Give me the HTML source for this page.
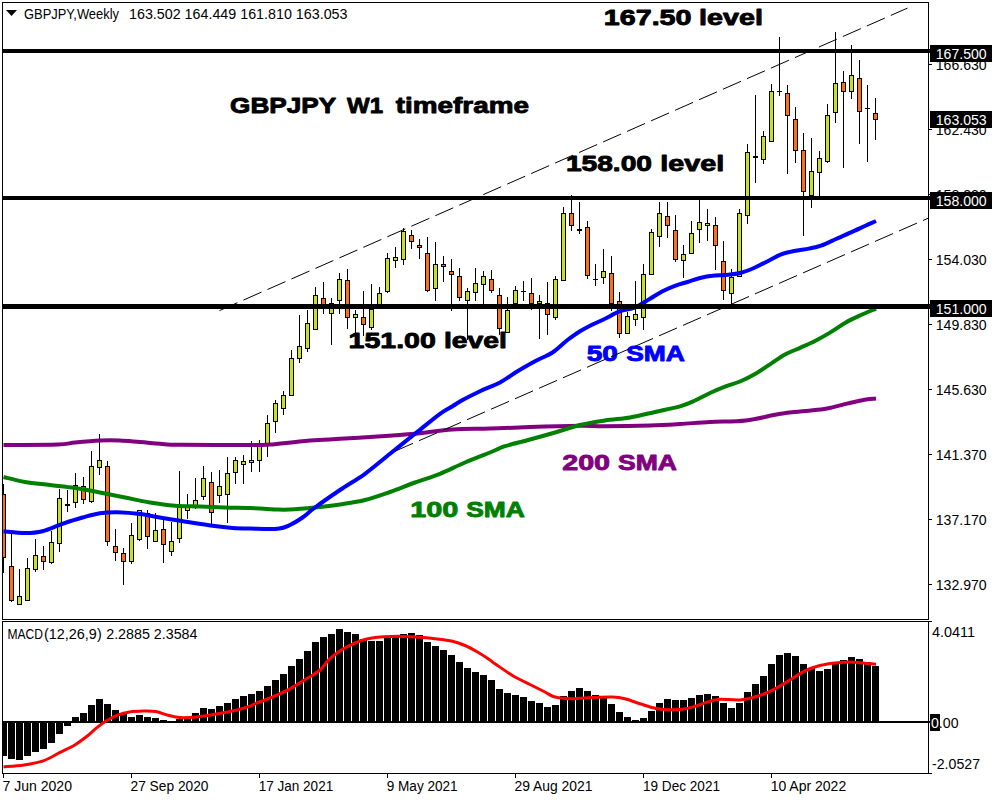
<!DOCTYPE html>
<html lang="en"><head><meta charset="utf-8"><title>GBPJPY Weekly chart</title>
<style>
html,body{margin:0;padding:0;background:#fff;}
body{width:1000px;height:800px;overflow:hidden;}
svg{display:block;}
text{font-family:"Liberation Sans", sans-serif;}
.ax{font-size:14px;fill:#000;}
.axw{font-size:14px;fill:#fff;}
.big{font-weight:bold;font-size:22.8px;stroke-width:0.9px;stroke-linejoin:round;paint-order:stroke;}
</style></head><body>
<svg width="1000" height="800" viewBox="0 0 1000 800">
<rect x="0" y="0" width="1000" height="800" fill="#fff"/>
<defs><clipPath id="cm"><rect x="3" y="3" width="925" height="616"/></clipPath><clipPath id="ci"><rect x="3" y="622" width="925" height="151"/></clipPath></defs>
<g shape-rendering="crispEdges" clip-path="url(#cm)">
<rect x="3" y="484" width="1" height="89" fill="#000"/>
<rect x="1" y="494" width="5" height="64" fill="#000"/>
<rect x="2" y="495" width="3" height="62" fill="#ff6c20"/>
<rect x="11" y="534" width="1" height="68" fill="#000"/>
<rect x="9" y="566" width="5" height="35" fill="#000"/>
<rect x="10" y="567" width="3" height="33" fill="#ff6c20"/>
<rect x="19" y="569" width="1" height="36" fill="#000"/>
<rect x="17" y="596" width="5" height="9" fill="#000"/>
<rect x="18" y="597" width="3" height="7" fill="#c4de32"/>
<rect x="27" y="558" width="1" height="43" fill="#000"/>
<rect x="25" y="568" width="5" height="33" fill="#000"/>
<rect x="26" y="569" width="3" height="31" fill="#c4de32"/>
<rect x="35" y="539" width="1" height="33" fill="#000"/>
<rect x="33" y="555" width="5" height="15" fill="#000"/>
<rect x="34" y="556" width="3" height="13" fill="#c4de32"/>
<rect x="43" y="546" width="1" height="24" fill="#000"/>
<rect x="41" y="556" width="5" height="6" fill="#000"/>
<rect x="42" y="557" width="3" height="4" fill="#ff6c20"/>
<rect x="51" y="531" width="1" height="33" fill="#000"/>
<rect x="49" y="542" width="5" height="21" fill="#000"/>
<rect x="50" y="543" width="3" height="19" fill="#c4de32"/>
<rect x="59" y="489" width="1" height="63" fill="#000"/>
<rect x="57" y="498" width="5" height="46" fill="#000"/>
<rect x="58" y="499" width="3" height="44" fill="#c4de32"/>
<rect x="67" y="490" width="1" height="22" fill="#000"/>
<rect x="65" y="504" width="5" height="2" fill="#000"/>
<rect x="75" y="473" width="1" height="35" fill="#000"/>
<rect x="73" y="485" width="5" height="18" fill="#000"/>
<rect x="74" y="486" width="3" height="16" fill="#c4de32"/>
<rect x="83" y="477" width="1" height="27" fill="#000"/>
<rect x="81" y="486" width="5" height="14" fill="#000"/>
<rect x="82" y="487" width="3" height="12" fill="#ff6c20"/>
<rect x="91" y="451" width="1" height="52" fill="#000"/>
<rect x="89" y="466" width="5" height="36" fill="#000"/>
<rect x="90" y="467" width="3" height="34" fill="#c4de32"/>
<rect x="99" y="434" width="1" height="41" fill="#000"/>
<rect x="97" y="460" width="5" height="8" fill="#000"/>
<rect x="98" y="461" width="3" height="6" fill="#c4de32"/>
<rect x="107" y="461" width="1" height="85" fill="#000"/>
<rect x="105" y="466" width="5" height="76" fill="#000"/>
<rect x="106" y="467" width="3" height="74" fill="#ff6c20"/>
<rect x="115" y="529" width="1" height="32" fill="#000"/>
<rect x="113" y="546" width="5" height="7" fill="#000"/>
<rect x="114" y="547" width="3" height="5" fill="#ff6c20"/>
<rect x="123" y="548" width="1" height="37" fill="#000"/>
<rect x="121" y="553" width="5" height="9" fill="#000"/>
<rect x="122" y="554" width="3" height="7" fill="#ff6c20"/>
<rect x="131" y="523" width="1" height="41" fill="#000"/>
<rect x="129" y="535" width="5" height="27" fill="#000"/>
<rect x="130" y="536" width="3" height="25" fill="#c4de32"/>
<rect x="139" y="510" width="1" height="31" fill="#000"/>
<rect x="137" y="510" width="5" height="30" fill="#000"/>
<rect x="138" y="511" width="3" height="28" fill="#c4de32"/>
<rect x="147" y="510" width="1" height="39" fill="#000"/>
<rect x="145" y="513" width="5" height="24" fill="#000"/>
<rect x="146" y="514" width="3" height="22" fill="#ff6c20"/>
<rect x="155" y="513" width="1" height="29" fill="#000"/>
<rect x="153" y="530" width="5" height="12" fill="#000"/>
<rect x="154" y="531" width="3" height="10" fill="#c4de32"/>
<rect x="163" y="520" width="1" height="43" fill="#000"/>
<rect x="161" y="529" width="5" height="16" fill="#000"/>
<rect x="162" y="530" width="3" height="14" fill="#ff6c20"/>
<rect x="171" y="522" width="1" height="34" fill="#000"/>
<rect x="169" y="541" width="5" height="11" fill="#000"/>
<rect x="170" y="542" width="3" height="9" fill="#c4de32"/>
<rect x="179" y="471" width="1" height="72" fill="#000"/>
<rect x="177" y="505" width="5" height="34" fill="#000"/>
<rect x="178" y="506" width="3" height="32" fill="#c4de32"/>
<rect x="187" y="494" width="1" height="25" fill="#000"/>
<rect x="185" y="507" width="5" height="4" fill="#000"/>
<rect x="186" y="508" width="3" height="2" fill="#c4de32"/>
<rect x="195" y="478" width="1" height="31" fill="#000"/>
<rect x="193" y="500" width="5" height="8" fill="#000"/>
<rect x="194" y="501" width="3" height="6" fill="#c4de32"/>
<rect x="203" y="466" width="1" height="34" fill="#000"/>
<rect x="201" y="478" width="5" height="19" fill="#000"/>
<rect x="202" y="479" width="3" height="17" fill="#c4de32"/>
<rect x="211" y="472" width="1" height="52" fill="#000"/>
<rect x="209" y="482" width="5" height="31" fill="#000"/>
<rect x="210" y="483" width="3" height="29" fill="#ff6c20"/>
<rect x="219" y="470" width="1" height="33" fill="#000"/>
<rect x="217" y="486" width="5" height="10" fill="#000"/>
<rect x="218" y="487" width="3" height="8" fill="#c4de32"/>
<rect x="227" y="457" width="1" height="66" fill="#000"/>
<rect x="225" y="473" width="5" height="22" fill="#000"/>
<rect x="226" y="474" width="3" height="20" fill="#c4de32"/>
<rect x="235" y="457" width="1" height="27" fill="#000"/>
<rect x="233" y="460" width="5" height="13" fill="#000"/>
<rect x="234" y="461" width="3" height="11" fill="#c4de32"/>
<rect x="243" y="455" width="1" height="29" fill="#000"/>
<rect x="241" y="461" width="5" height="4" fill="#000"/>
<rect x="242" y="462" width="3" height="2" fill="#c4de32"/>
<rect x="251" y="441" width="1" height="31" fill="#000"/>
<rect x="249" y="460" width="5" height="3" fill="#000"/>
<rect x="250" y="461" width="3" height="1" fill="#c4de32"/>
<rect x="259" y="440" width="1" height="32" fill="#000"/>
<rect x="257" y="446" width="5" height="15" fill="#000"/>
<rect x="258" y="447" width="3" height="13" fill="#c4de32"/>
<rect x="267" y="415" width="1" height="42" fill="#000"/>
<rect x="265" y="423" width="5" height="21" fill="#000"/>
<rect x="266" y="424" width="3" height="19" fill="#c4de32"/>
<rect x="275" y="400" width="1" height="33" fill="#000"/>
<rect x="273" y="403" width="5" height="19" fill="#000"/>
<rect x="274" y="404" width="3" height="17" fill="#c4de32"/>
<rect x="283" y="391" width="1" height="24" fill="#000"/>
<rect x="281" y="395" width="5" height="14" fill="#000"/>
<rect x="282" y="396" width="3" height="12" fill="#c4de32"/>
<rect x="291" y="350" width="1" height="46" fill="#000"/>
<rect x="289" y="358" width="5" height="38" fill="#000"/>
<rect x="290" y="359" width="3" height="36" fill="#c4de32"/>
<rect x="299" y="315" width="1" height="48" fill="#000"/>
<rect x="297" y="346" width="5" height="13" fill="#000"/>
<rect x="298" y="347" width="3" height="11" fill="#c4de32"/>
<rect x="307" y="310" width="1" height="42" fill="#000"/>
<rect x="305" y="323" width="5" height="26" fill="#000"/>
<rect x="306" y="324" width="3" height="24" fill="#c4de32"/>
<rect x="315" y="287" width="1" height="43" fill="#000"/>
<rect x="313" y="295" width="5" height="35" fill="#000"/>
<rect x="314" y="296" width="3" height="33" fill="#c4de32"/>
<rect x="323" y="282" width="1" height="32" fill="#000"/>
<rect x="321" y="298" width="5" height="7" fill="#000"/>
<rect x="322" y="299" width="3" height="5" fill="#ff6c20"/>
<rect x="331" y="298" width="1" height="47" fill="#000"/>
<rect x="329" y="303" width="5" height="11" fill="#000"/>
<rect x="330" y="304" width="3" height="9" fill="#c4de32"/>
<rect x="339" y="273" width="1" height="41" fill="#000"/>
<rect x="337" y="279" width="5" height="22" fill="#000"/>
<rect x="338" y="280" width="3" height="20" fill="#c4de32"/>
<rect x="347" y="269" width="1" height="60" fill="#000"/>
<rect x="345" y="280" width="5" height="38" fill="#000"/>
<rect x="346" y="281" width="3" height="36" fill="#ff6c20"/>
<rect x="355" y="310" width="1" height="23" fill="#000"/>
<rect x="353" y="314" width="5" height="4" fill="#000"/>
<rect x="354" y="315" width="3" height="2" fill="#c4de32"/>
<rect x="363" y="291" width="1" height="45" fill="#000"/>
<rect x="361" y="317" width="5" height="8" fill="#000"/>
<rect x="362" y="318" width="3" height="6" fill="#ff6c20"/>
<rect x="371" y="284" width="1" height="46" fill="#000"/>
<rect x="369" y="309" width="5" height="19" fill="#000"/>
<rect x="370" y="310" width="3" height="17" fill="#c4de32"/>
<rect x="379" y="287" width="1" height="22" fill="#000"/>
<rect x="377" y="293" width="5" height="16" fill="#000"/>
<rect x="378" y="294" width="3" height="14" fill="#c4de32"/>
<rect x="387" y="253" width="1" height="40" fill="#000"/>
<rect x="385" y="258" width="5" height="34" fill="#000"/>
<rect x="386" y="259" width="3" height="32" fill="#c4de32"/>
<rect x="395" y="247" width="1" height="21" fill="#000"/>
<rect x="393" y="257" width="5" height="4" fill="#000"/>
<rect x="394" y="258" width="3" height="2" fill="#c4de32"/>
<rect x="403" y="228" width="1" height="37" fill="#000"/>
<rect x="401" y="231" width="5" height="29" fill="#000"/>
<rect x="402" y="232" width="3" height="27" fill="#c4de32"/>
<rect x="411" y="230" width="1" height="19" fill="#000"/>
<rect x="409" y="235" width="5" height="7" fill="#000"/>
<rect x="410" y="236" width="3" height="5" fill="#ff6c20"/>
<rect x="419" y="239" width="1" height="20" fill="#000"/>
<rect x="417" y="245" width="5" height="3" fill="#000"/>
<rect x="418" y="246" width="3" height="1" fill="#ff6c20"/>
<rect x="427" y="237" width="1" height="55" fill="#000"/>
<rect x="425" y="253" width="5" height="38" fill="#000"/>
<rect x="426" y="254" width="3" height="36" fill="#ff6c20"/>
<rect x="435" y="242" width="1" height="59" fill="#000"/>
<rect x="433" y="264" width="5" height="25" fill="#000"/>
<rect x="434" y="265" width="3" height="23" fill="#c4de32"/>
<rect x="443" y="256" width="1" height="26" fill="#000"/>
<rect x="441" y="264" width="5" height="3" fill="#000"/>
<rect x="442" y="265" width="3" height="1" fill="#ff6c20"/>
<rect x="451" y="259" width="1" height="52" fill="#000"/>
<rect x="449" y="271" width="5" height="4" fill="#000"/>
<rect x="450" y="272" width="3" height="2" fill="#ff6c20"/>
<rect x="459" y="268" width="1" height="33" fill="#000"/>
<rect x="457" y="276" width="5" height="22" fill="#000"/>
<rect x="458" y="277" width="3" height="20" fill="#ff6c20"/>
<rect x="467" y="288" width="1" height="52" fill="#000"/>
<rect x="465" y="291" width="5" height="10" fill="#000"/>
<rect x="466" y="292" width="3" height="8" fill="#c4de32"/>
<rect x="475" y="268" width="1" height="33" fill="#000"/>
<rect x="473" y="283" width="5" height="10" fill="#000"/>
<rect x="474" y="284" width="3" height="8" fill="#c4de32"/>
<rect x="483" y="271" width="1" height="33" fill="#000"/>
<rect x="481" y="276" width="5" height="9" fill="#000"/>
<rect x="482" y="277" width="3" height="7" fill="#c4de32"/>
<rect x="491" y="270" width="1" height="23" fill="#000"/>
<rect x="489" y="279" width="5" height="12" fill="#000"/>
<rect x="490" y="280" width="3" height="10" fill="#ff6c20"/>
<rect x="499" y="288" width="1" height="47" fill="#000"/>
<rect x="497" y="295" width="5" height="34" fill="#000"/>
<rect x="498" y="296" width="3" height="32" fill="#ff6c20"/>
<rect x="507" y="297" width="1" height="36" fill="#000"/>
<rect x="505" y="310" width="5" height="23" fill="#000"/>
<rect x="506" y="311" width="3" height="21" fill="#c4de32"/>
<rect x="515" y="286" width="1" height="18" fill="#000"/>
<rect x="513" y="290" width="5" height="14" fill="#000"/>
<rect x="514" y="291" width="3" height="12" fill="#c4de32"/>
<rect x="523" y="281" width="1" height="20" fill="#000"/>
<rect x="521" y="291" width="5" height="1" fill="#000"/>
<rect x="531" y="278" width="1" height="32" fill="#000"/>
<rect x="529" y="293" width="5" height="11" fill="#000"/>
<rect x="530" y="294" width="3" height="9" fill="#ff6c20"/>
<rect x="539" y="295" width="1" height="44" fill="#000"/>
<rect x="537" y="301" width="5" height="3" fill="#000"/>
<rect x="538" y="302" width="3" height="1" fill="#c4de32"/>
<rect x="547" y="282" width="1" height="53" fill="#000"/>
<rect x="545" y="303" width="5" height="12" fill="#000"/>
<rect x="546" y="304" width="3" height="10" fill="#ff6c20"/>
<rect x="555" y="276" width="1" height="44" fill="#000"/>
<rect x="553" y="279" width="5" height="39" fill="#000"/>
<rect x="554" y="280" width="3" height="37" fill="#c4de32"/>
<rect x="563" y="207" width="1" height="74" fill="#000"/>
<rect x="561" y="213" width="5" height="68" fill="#000"/>
<rect x="562" y="214" width="3" height="66" fill="#c4de32"/>
<rect x="571" y="195" width="1" height="36" fill="#000"/>
<rect x="569" y="213" width="5" height="13" fill="#000"/>
<rect x="570" y="214" width="3" height="11" fill="#ff6c20"/>
<rect x="579" y="202" width="1" height="32" fill="#000"/>
<rect x="577" y="229" width="5" height="2" fill="#000"/>
<rect x="587" y="221" width="1" height="58" fill="#000"/>
<rect x="585" y="227" width="5" height="49" fill="#000"/>
<rect x="586" y="228" width="3" height="47" fill="#ff6c20"/>
<rect x="595" y="264" width="1" height="22" fill="#000"/>
<rect x="593" y="279" width="5" height="1" fill="#000"/>
<rect x="603" y="249" width="1" height="35" fill="#000"/>
<rect x="601" y="271" width="5" height="7" fill="#000"/>
<rect x="602" y="272" width="3" height="5" fill="#c4de32"/>
<rect x="611" y="256" width="1" height="55" fill="#000"/>
<rect x="609" y="273" width="5" height="31" fill="#000"/>
<rect x="610" y="274" width="3" height="29" fill="#ff6c20"/>
<rect x="619" y="292" width="1" height="46" fill="#000"/>
<rect x="617" y="301" width="5" height="33" fill="#000"/>
<rect x="618" y="302" width="3" height="31" fill="#ff6c20"/>
<rect x="627" y="312" width="1" height="22" fill="#000"/>
<rect x="625" y="316" width="5" height="18" fill="#000"/>
<rect x="626" y="317" width="3" height="16" fill="#c4de32"/>
<rect x="635" y="281" width="1" height="45" fill="#000"/>
<rect x="633" y="314" width="5" height="6" fill="#000"/>
<rect x="634" y="315" width="3" height="4" fill="#c4de32"/>
<rect x="643" y="264" width="1" height="66" fill="#000"/>
<rect x="641" y="274" width="5" height="44" fill="#000"/>
<rect x="642" y="275" width="3" height="42" fill="#c4de32"/>
<rect x="651" y="229" width="1" height="46" fill="#000"/>
<rect x="649" y="232" width="5" height="43" fill="#000"/>
<rect x="650" y="233" width="3" height="41" fill="#c4de32"/>
<rect x="659" y="202" width="1" height="45" fill="#000"/>
<rect x="657" y="213" width="5" height="24" fill="#000"/>
<rect x="658" y="214" width="3" height="22" fill="#c4de32"/>
<rect x="667" y="202" width="1" height="36" fill="#000"/>
<rect x="665" y="216" width="5" height="10" fill="#000"/>
<rect x="666" y="217" width="3" height="8" fill="#ff6c20"/>
<rect x="675" y="215" width="1" height="47" fill="#000"/>
<rect x="673" y="230" width="5" height="30" fill="#000"/>
<rect x="674" y="231" width="3" height="28" fill="#ff6c20"/>
<rect x="683" y="245" width="1" height="33" fill="#000"/>
<rect x="681" y="254" width="5" height="7" fill="#000"/>
<rect x="682" y="255" width="3" height="5" fill="#c4de32"/>
<rect x="691" y="221" width="1" height="33" fill="#000"/>
<rect x="689" y="233" width="5" height="21" fill="#000"/>
<rect x="690" y="234" width="3" height="19" fill="#c4de32"/>
<rect x="699" y="200" width="1" height="43" fill="#000"/>
<rect x="697" y="222" width="5" height="8" fill="#000"/>
<rect x="698" y="223" width="3" height="6" fill="#c4de32"/>
<rect x="707" y="209" width="1" height="32" fill="#000"/>
<rect x="705" y="223" width="5" height="3" fill="#000"/>
<rect x="706" y="224" width="3" height="1" fill="#c4de32"/>
<rect x="715" y="217" width="1" height="53" fill="#000"/>
<rect x="713" y="225" width="5" height="21" fill="#000"/>
<rect x="714" y="226" width="3" height="19" fill="#ff6c20"/>
<rect x="723" y="241" width="1" height="59" fill="#000"/>
<rect x="721" y="261" width="5" height="30" fill="#000"/>
<rect x="722" y="262" width="3" height="28" fill="#ff6c20"/>
<rect x="731" y="269" width="1" height="35" fill="#000"/>
<rect x="729" y="277" width="5" height="17" fill="#000"/>
<rect x="730" y="278" width="3" height="15" fill="#c4de32"/>
<rect x="739" y="209" width="1" height="68" fill="#000"/>
<rect x="737" y="213" width="5" height="64" fill="#000"/>
<rect x="738" y="214" width="3" height="62" fill="#c4de32"/>
<rect x="747" y="144" width="1" height="80" fill="#000"/>
<rect x="745" y="152" width="5" height="64" fill="#000"/>
<rect x="746" y="153" width="3" height="62" fill="#c4de32"/>
<rect x="755" y="95" width="1" height="88" fill="#000"/>
<rect x="753" y="156" width="5" height="2" fill="#000"/>
<rect x="763" y="131" width="1" height="33" fill="#000"/>
<rect x="761" y="136" width="5" height="24" fill="#000"/>
<rect x="762" y="137" width="3" height="22" fill="#c4de32"/>
<rect x="771" y="84" width="1" height="58" fill="#000"/>
<rect x="769" y="91" width="5" height="51" fill="#000"/>
<rect x="770" y="92" width="3" height="49" fill="#c4de32"/>
<rect x="779" y="37" width="1" height="59" fill="#000"/>
<rect x="777" y="91" width="5" height="1" fill="#000"/>
<rect x="787" y="85" width="1" height="89" fill="#000"/>
<rect x="785" y="93" width="5" height="23" fill="#000"/>
<rect x="786" y="94" width="3" height="21" fill="#ff6c20"/>
<rect x="795" y="107" width="1" height="56" fill="#000"/>
<rect x="793" y="119" width="5" height="32" fill="#000"/>
<rect x="794" y="120" width="3" height="30" fill="#ff6c20"/>
<rect x="803" y="133" width="1" height="103" fill="#000"/>
<rect x="801" y="150" width="5" height="42" fill="#000"/>
<rect x="802" y="151" width="3" height="40" fill="#ff6c20"/>
<rect x="811" y="138" width="1" height="70" fill="#000"/>
<rect x="809" y="171" width="5" height="25" fill="#000"/>
<rect x="810" y="172" width="3" height="23" fill="#c4de32"/>
<rect x="819" y="151" width="1" height="45" fill="#000"/>
<rect x="817" y="158" width="5" height="15" fill="#000"/>
<rect x="818" y="159" width="3" height="13" fill="#c4de32"/>
<rect x="827" y="104" width="1" height="59" fill="#000"/>
<rect x="825" y="115" width="5" height="47" fill="#000"/>
<rect x="826" y="116" width="3" height="45" fill="#c4de32"/>
<rect x="835" y="32" width="1" height="91" fill="#000"/>
<rect x="833" y="83" width="5" height="30" fill="#000"/>
<rect x="834" y="84" width="3" height="28" fill="#c4de32"/>
<rect x="843" y="71" width="1" height="97" fill="#000"/>
<rect x="841" y="82" width="5" height="10" fill="#000"/>
<rect x="842" y="83" width="3" height="8" fill="#ff6c20"/>
<rect x="851" y="45" width="1" height="54" fill="#000"/>
<rect x="849" y="75" width="5" height="17" fill="#000"/>
<rect x="850" y="76" width="3" height="15" fill="#c4de32"/>
<rect x="859" y="60" width="1" height="84" fill="#000"/>
<rect x="857" y="78" width="5" height="34" fill="#000"/>
<rect x="858" y="79" width="3" height="32" fill="#ff6c20"/>
<rect x="867" y="85" width="1" height="77" fill="#000"/>
<rect x="865" y="108" width="5" height="1" fill="#000"/>
<rect x="875" y="98" width="1" height="42" fill="#000"/>
<rect x="873" y="113" width="5" height="7" fill="#000"/>
<rect x="874" y="114" width="3" height="5" fill="#ff6c20"/>
</g>
<g fill="none" stroke-width="4" stroke-linejoin="round" stroke-linecap="butt" clip-path="url(#cm)">
<path d="M3.5,445.0 C12.5,444.9 45.6,444.9 57.5,444.5 C69.4,444.1 67.9,443.2 75.0,442.5 C82.1,441.8 92.5,440.8 100.0,440.5 C107.5,440.2 113.3,440.2 120.0,440.5 C126.7,440.8 133.3,441.5 140.0,442.0 C146.7,442.5 153.3,443.3 160.0,443.8 C166.7,444.2 165.0,444.5 180.0,444.8 C195.0,445.0 235.0,445.0 250.0,445.0 C265.0,445.0 261.2,445.1 270.0,444.5 C278.8,443.9 290.8,442.2 302.5,441.2 C314.2,440.3 327.5,439.5 340.0,438.8 C352.5,438.0 365.0,437.3 377.5,436.5 C390.0,435.7 402.5,434.9 415.0,433.8 C427.5,432.6 440.0,430.4 452.5,429.5 C465.0,428.6 477.1,429.0 490.0,428.6 C502.9,428.2 515.0,427.5 530.0,427.0 C545.0,426.5 567.5,425.9 580.0,425.8 C592.5,425.6 593.3,426.3 605.0,426.2 C616.7,426.2 637.5,425.9 650.0,425.5 C662.5,425.1 670.0,424.6 680.0,424.0 C690.0,423.4 699.0,422.6 710.0,422.0 C721.0,421.4 734.5,421.8 746.0,420.5 C757.5,419.2 769.0,415.6 779.0,414.0 C789.0,412.4 798.0,411.9 806.0,411.0 C814.0,410.1 820.0,409.8 827.0,408.5 C834.0,407.2 841.5,404.9 848.0,403.4 C854.5,401.9 861.3,400.3 866.0,399.5 C870.7,398.7 874.3,398.8 876.0,398.6" stroke="#800080"/>
<path d="M3.5,477.0 C7.1,477.8 17.2,480.7 25.0,482.0 C32.8,483.3 41.7,484.0 50.0,485.0 C58.3,486.0 66.7,486.8 75.0,488.0 C83.3,489.2 91.7,490.9 100.0,492.5 C108.3,494.1 116.7,495.8 125.0,497.5 C133.3,499.2 141.7,501.1 150.0,502.5 C158.3,503.9 166.7,505.1 175.0,505.8 C183.3,506.4 191.7,506.2 200.0,506.5 C208.3,506.8 216.7,507.2 225.0,507.5 C233.3,507.8 241.2,507.7 250.0,508.0 C258.8,508.3 270.8,509.2 277.5,509.5 C284.2,509.8 283.8,509.8 290.0,509.5 C296.2,509.2 306.7,508.3 315.0,507.5 C323.3,506.7 331.7,505.8 340.0,504.5 C348.3,503.2 356.7,502.1 365.0,500.0 C373.3,497.9 381.7,494.9 390.0,492.0 C398.3,489.1 406.7,485.5 415.0,482.5 C423.3,479.5 431.7,477.1 440.0,473.8 C448.3,470.4 456.7,466.0 465.0,462.5 C473.3,459.0 483.3,455.2 490.0,452.5 C496.7,449.8 498.3,448.4 505.0,446.2 C511.7,444.1 521.7,441.8 530.0,439.5 C538.3,437.2 546.7,434.9 555.0,432.5 C563.3,430.1 571.7,427.0 580.0,425.0 C588.3,423.0 596.7,421.8 605.0,420.5 C613.3,419.2 621.7,418.9 630.0,417.5 C638.3,416.1 646.7,413.9 655.0,412.0 C663.3,410.1 673.3,408.2 680.0,406.3 C686.7,404.4 690.0,402.7 695.0,400.5 C700.0,398.3 705.0,395.3 710.0,393.0 C715.0,390.7 720.0,388.5 725.0,386.6 C730.0,384.7 735.0,383.6 740.0,381.5 C745.0,379.4 750.0,376.9 755.0,374.0 C760.0,371.1 765.0,367.6 770.0,364.4 C775.0,361.1 780.0,357.2 785.0,354.5 C790.0,351.8 795.0,350.1 800.0,347.9 C805.0,345.6 810.0,343.6 815.0,341.0 C820.0,338.4 825.0,335.6 830.0,332.6 C835.0,329.6 840.0,325.9 845.0,323.0 C850.0,320.1 854.8,317.9 860.0,315.5 C865.2,313.1 873.3,309.8 876.0,308.6" stroke="#008000"/>
<path d="M3.5,531.2 C7.1,531.5 18.5,533.0 25.0,533.0 C31.5,533.0 36.2,532.8 42.5,531.2 C48.8,529.7 55.8,526.0 62.5,523.8 C69.2,521.5 76.2,519.2 82.5,517.5 C88.8,515.8 94.2,514.1 100.0,513.2 C105.8,512.4 110.8,512.1 117.5,512.2 C124.2,512.4 132.5,513.0 140.0,514.0 C147.5,515.0 154.6,516.7 162.5,518.0 C170.4,519.3 179.2,520.7 187.5,522.0 C195.8,523.3 205.0,524.8 212.5,525.8 C220.0,526.8 226.2,527.5 232.5,528.0 C238.8,528.5 242.5,528.5 250.0,528.6 C257.5,528.7 270.8,529.4 277.5,528.8 C284.2,528.1 285.8,526.9 290.0,525.0 C294.2,523.1 298.3,520.4 302.5,517.5 C306.7,514.6 308.8,512.1 315.0,507.5 C321.2,502.9 331.7,495.6 340.0,490.0 C348.3,484.4 356.7,479.8 365.0,473.8 C373.3,467.7 381.7,460.4 390.0,453.8 C398.3,447.1 406.7,440.4 415.0,433.8 C423.3,427.1 433.8,418.3 440.0,413.8 C446.2,409.2 448.8,408.5 452.5,406.2 C456.2,404.0 457.9,402.5 462.5,400.0 C467.1,397.5 473.8,394.2 480.0,391.2 C486.2,388.3 493.8,385.8 500.0,382.5 C506.2,379.2 511.7,374.8 517.5,371.2 C523.3,367.7 529.2,364.4 535.0,361.2 C540.8,358.1 547.1,356.0 552.5,352.5 C557.9,349.0 562.9,343.5 567.5,340.0 C572.1,336.5 575.8,333.8 580.0,331.2 C584.2,328.7 588.3,326.6 592.5,324.5 C596.7,322.4 600.4,321.0 605.0,318.8 C609.6,316.5 615.0,313.1 620.0,311.2 C625.0,309.4 630.0,309.6 635.0,307.5 C640.0,305.4 645.4,301.5 650.0,298.8 C654.6,296.0 658.3,293.4 662.5,291.2 C666.7,289.1 670.8,287.3 675.0,285.8 C679.2,284.2 683.3,283.3 687.5,282.0 C691.7,280.7 695.8,279.0 700.0,278.0 C704.2,277.0 708.3,276.2 712.5,275.8 C716.7,275.2 720.4,275.5 725.0,275.0 C729.6,274.5 735.0,274.2 740.0,273.0 C745.0,271.8 750.0,269.7 755.0,267.5 C760.0,265.3 765.8,262.1 770.0,260.0 C774.2,257.9 776.5,256.1 780.5,254.6 C784.5,253.1 789.2,252.0 794.0,251.0 C798.8,250.0 804.5,249.5 809.0,248.6 C813.5,247.7 816.5,247.2 821.0,245.6 C825.5,244.0 831.0,241.2 836.0,239.0 C841.0,236.8 846.0,234.7 851.0,232.4 C856.0,230.2 861.8,227.4 866.0,225.5 C870.2,223.6 874.3,221.8 876.0,221.0" stroke="#0000ff"/>
</g>
<g shape-rendering="crispEdges" fill="#000">
<rect x="3" y="49" width="927" height="4"/>
<rect x="3" y="196" width="927" height="4"/>
<rect x="3" y="304" width="927" height="5"/>
</g>
<text class="big" x="230.07" y="113.4" textLength="106.17" lengthAdjust="spacingAndGlyphs" fill="#000" stroke="#000">GBPJPY</text>
<text class="big" x="346.96" y="113.4" textLength="36.04" lengthAdjust="spacingAndGlyphs" fill="#000" stroke="#000">W1</text>
<text class="big" x="395.78" y="113.4" textLength="133.23" lengthAdjust="spacingAndGlyphs" fill="#000" stroke="#000">timeframe</text>
<text class="big" x="603.84" y="24.8" textLength="87.64" lengthAdjust="spacingAndGlyphs" fill="#000" stroke="#000">167.50</text>
<text class="big" x="699.12" y="24.8" textLength="63.86" lengthAdjust="spacingAndGlyphs" fill="#000" stroke="#000">level</text>
<text class="big" x="565.93" y="171.4" textLength="86.08" lengthAdjust="spacingAndGlyphs" fill="#000" stroke="#000">158.00</text>
<text class="big" x="660.3" y="171.4" textLength="63.99" lengthAdjust="spacingAndGlyphs" fill="#000" stroke="#000">level</text>
<text class="big" x="348.58" y="348.2" textLength="87.21" lengthAdjust="spacingAndGlyphs" fill="#000" stroke="#000">151.00</text>
<text class="big" x="443.96" y="348.2" textLength="62.92" lengthAdjust="spacingAndGlyphs" fill="#000" stroke="#000">level</text>
<text class="big" x="586.69" y="361.3" textLength="31.14" lengthAdjust="spacingAndGlyphs" fill="#0000ff" stroke="#0000ff">50</text>
<text class="big" x="626.2" y="361.3" textLength="58.72" lengthAdjust="spacingAndGlyphs" fill="#0000ff" stroke="#0000ff">SMA</text>
<text class="big" x="562.21" y="470.1" textLength="47.8" lengthAdjust="spacingAndGlyphs" fill="#800080" stroke="#800080">200</text>
<text class="big" x="617.97" y="470.1" textLength="58.91" lengthAdjust="spacingAndGlyphs" fill="#800080" stroke="#800080">SMA</text>
<text class="big" x="410.29" y="517.2" textLength="48.01" lengthAdjust="spacingAndGlyphs" fill="#008000" stroke="#008000">100</text>
<text class="big" x="466.2" y="517.2" textLength="58.61" lengthAdjust="spacingAndGlyphs" fill="#008000" stroke="#008000">SMA</text>
<g stroke="#000" stroke-width="1" stroke-dasharray="19.64 6.55" fill="none" clip-path="url(#cm)">
<line x1="219.5" y1="310.6" x2="907.5" y2="8.1"/>
<line x1="395" y1="451.2" x2="928" y2="218.3"/>
</g>
<g shape-rendering="crispEdges" fill="#000">
<rect x="3" y="721" width="927" height="2"/>
<rect x="3" y="721" width="4" height="35"/>
<rect x="8" y="721" width="7" height="38"/>
<rect x="16" y="721" width="7" height="39"/>
<rect x="24" y="721" width="7" height="35"/>
<rect x="32" y="721" width="7" height="31"/>
<rect x="40" y="721" width="7" height="28"/>
<rect x="48" y="721" width="7" height="22"/>
<rect x="56" y="721" width="7" height="13"/>
<rect x="64" y="721" width="7" height="5"/>
<rect x="72" y="717" width="7" height="6"/>
<rect x="80" y="713" width="7" height="10"/>
<rect x="88" y="705" width="7" height="18"/>
<rect x="96" y="699" width="7" height="24"/>
<rect x="104" y="704" width="7" height="19"/>
<rect x="112" y="710" width="7" height="13"/>
<rect x="120" y="714" width="7" height="9"/>
<rect x="128" y="717" width="7" height="6"/>
<rect x="136" y="715" width="7" height="8"/>
<rect x="144" y="717" width="7" height="6"/>
<rect x="152" y="718" width="7" height="5"/>
<rect x="160" y="720" width="7" height="3"/>
<rect x="168" y="721" width="7" height="2"/>
<rect x="176" y="719" width="7" height="4"/>
<rect x="184" y="717" width="7" height="6"/>
<rect x="192" y="713" width="7" height="10"/>
<rect x="200" y="708" width="7" height="15"/>
<rect x="208" y="709" width="7" height="14"/>
<rect x="216" y="706" width="7" height="17"/>
<rect x="224" y="703" width="7" height="20"/>
<rect x="232" y="699" width="7" height="24"/>
<rect x="240" y="696" width="7" height="27"/>
<rect x="248" y="694" width="7" height="29"/>
<rect x="256" y="691" width="7" height="32"/>
<rect x="264" y="686" width="7" height="37"/>
<rect x="272" y="680" width="7" height="43"/>
<rect x="280" y="674" width="7" height="49"/>
<rect x="288" y="666" width="7" height="57"/>
<rect x="296" y="659" width="7" height="64"/>
<rect x="304" y="651" width="7" height="72"/>
<rect x="312" y="642" width="7" height="81"/>
<rect x="320" y="637" width="7" height="86"/>
<rect x="328" y="634" width="7" height="89"/>
<rect x="336" y="629" width="7" height="94"/>
<rect x="344" y="632" width="7" height="91"/>
<rect x="352" y="634" width="7" height="89"/>
<rect x="360" y="639" width="7" height="84"/>
<rect x="368" y="641" width="7" height="82"/>
<rect x="376" y="641" width="7" height="82"/>
<rect x="384" y="637" width="7" height="86"/>
<rect x="392" y="636" width="7" height="87"/>
<rect x="400" y="634" width="7" height="89"/>
<rect x="408" y="633" width="7" height="90"/>
<rect x="416" y="635" width="7" height="88"/>
<rect x="424" y="642" width="7" height="81"/>
<rect x="432" y="646" width="7" height="77"/>
<rect x="440" y="650" width="7" height="73"/>
<rect x="448" y="655" width="7" height="68"/>
<rect x="456" y="662" width="7" height="61"/>
<rect x="464" y="668" width="7" height="55"/>
<rect x="472" y="672" width="7" height="51"/>
<rect x="480" y="675" width="7" height="48"/>
<rect x="488" y="680" width="7" height="43"/>
<rect x="496" y="689" width="7" height="34"/>
<rect x="504" y="693" width="7" height="30"/>
<rect x="512" y="695" width="7" height="28"/>
<rect x="520" y="697" width="7" height="26"/>
<rect x="528" y="701" width="7" height="22"/>
<rect x="536" y="703" width="7" height="20"/>
<rect x="544" y="707" width="7" height="16"/>
<rect x="552" y="705" width="7" height="18"/>
<rect x="560" y="696" width="7" height="27"/>
<rect x="568" y="691" width="7" height="32"/>
<rect x="576" y="688" width="7" height="35"/>
<rect x="584" y="691" width="7" height="32"/>
<rect x="592" y="695" width="7" height="28"/>
<rect x="600" y="696" width="7" height="27"/>
<rect x="608" y="704" width="7" height="19"/>
<rect x="616" y="712" width="7" height="11"/>
<rect x="624" y="717" width="7" height="6"/>
<rect x="632" y="720" width="7" height="3"/>
<rect x="640" y="718" width="7" height="5"/>
<rect x="648" y="711" width="7" height="12"/>
<rect x="656" y="703" width="7" height="20"/>
<rect x="664" y="699" width="7" height="24"/>
<rect x="672" y="700" width="7" height="23"/>
<rect x="680" y="700" width="7" height="23"/>
<rect x="688" y="698" width="7" height="25"/>
<rect x="696" y="695" width="7" height="28"/>
<rect x="704" y="694" width="7" height="29"/>
<rect x="712" y="696" width="7" height="27"/>
<rect x="720" y="703" width="7" height="20"/>
<rect x="728" y="708" width="7" height="15"/>
<rect x="736" y="703" width="7" height="20"/>
<rect x="744" y="692" width="7" height="31"/>
<rect x="752" y="684" width="7" height="39"/>
<rect x="760" y="676" width="7" height="47"/>
<rect x="768" y="664" width="7" height="59"/>
<rect x="776" y="655" width="7" height="68"/>
<rect x="784" y="653" width="7" height="70"/>
<rect x="792" y="656" width="7" height="67"/>
<rect x="800" y="664" width="7" height="59"/>
<rect x="808" y="668" width="7" height="55"/>
<rect x="816" y="671" width="7" height="52"/>
<rect x="824" y="669" width="7" height="54"/>
<rect x="832" y="664" width="7" height="59"/>
<rect x="840" y="660" width="7" height="63"/>
<rect x="848" y="657" width="7" height="66"/>
<rect x="856" y="659" width="7" height="64"/>
<rect x="864" y="662" width="7" height="61"/>
<rect x="872" y="666" width="7" height="57"/>
</g>
<path d="M3.5,766.8 C6.9,766.5 17.4,765.9 24.0,764.9 C30.6,763.9 37.2,762.9 43.2,760.8 C49.2,758.7 54.8,755.0 60.0,752.4 C65.2,749.8 70.0,747.8 74.4,745.2 C78.8,742.6 82.8,739.6 86.4,736.8 C90.0,734.0 92.8,731.0 96.0,728.4 C99.2,725.8 102.0,723.4 105.6,721.2 C109.2,719.0 113.6,716.7 117.6,715.2 C121.6,713.7 125.2,712.7 129.6,712.0 C134.0,711.3 139.6,711.2 144.0,711.1 C148.4,711.0 152.0,710.9 156.0,711.6 C160.0,712.3 164.0,714.2 168.0,715.2 C172.0,716.2 175.2,717.3 180.0,717.6 C184.8,717.9 190.8,717.5 196.8,716.9 C202.8,716.3 209.6,715.1 216.0,714.0 C222.4,712.9 229.3,711.8 235.0,710.5 C240.7,709.2 246.7,707.4 250.0,706.2 C253.3,705.1 251.2,705.3 255.0,703.8 C258.8,702.2 266.7,699.5 272.5,697.0 C278.3,694.5 284.3,691.8 290.0,688.8 C295.7,685.7 301.5,681.9 306.5,678.8 C311.5,675.6 316.2,673.3 320.0,670.0 C323.8,666.7 326.0,662.4 329.4,659.2 C332.8,656.0 336.6,653.2 340.2,650.8 C343.8,648.4 347.7,646.4 351.0,644.8 C354.3,643.2 356.5,642.1 360.0,641.0 C363.5,639.9 368.0,638.8 372.0,638.1 C376.0,637.4 379.0,637.1 384.0,636.8 C389.0,636.5 396.0,636.3 402.0,636.4 C408.0,636.5 414.5,636.8 420.0,637.2 C425.5,637.6 429.6,638.1 435.0,638.8 C440.4,639.4 447.5,640.1 452.5,641.2 C457.5,642.4 460.8,643.7 465.0,645.5 C469.2,647.3 473.3,649.6 477.5,652.0 C481.7,654.4 487.1,658.0 490.0,660.0 C492.9,662.0 491.2,661.2 495.0,663.8 C498.8,666.3 506.7,672.0 512.5,675.5 C518.3,679.0 524.6,681.8 530.0,684.5 C535.4,687.2 540.8,689.9 545.0,692.0 C549.2,694.1 550.4,695.9 555.0,697.0 C559.6,698.1 566.2,698.7 572.5,698.8 C578.8,698.8 585.8,697.8 592.5,697.5 C599.2,697.2 607.1,696.8 612.5,697.0 C617.9,697.2 620.4,697.6 625.0,698.8 C629.6,699.9 635.0,702.2 640.0,703.8 C645.0,705.3 650.8,707.3 655.0,708.2 C659.2,709.2 660.4,709.3 665.0,709.5 C669.6,709.7 677.5,709.8 682.5,709.2 C687.5,708.7 690.4,707.6 695.0,706.2 C699.6,704.9 705.8,702.4 710.0,701.2 C714.2,700.1 715.0,699.5 720.0,699.2 C725.0,699.0 733.8,700.5 740.0,700.0 C746.2,699.5 751.7,698.1 757.5,696.2 C763.3,694.4 769.6,691.5 775.0,688.8 C780.4,686.0 785.0,683.0 790.0,680.0 C795.0,677.0 800.0,673.2 805.0,670.8 C810.0,668.3 815.0,666.8 820.0,665.5 C825.0,664.2 830.0,663.6 835.0,663.0 C840.0,662.4 845.0,662.0 850.0,662.0 C855.0,662.0 860.7,662.9 865.0,663.2 C869.3,663.6 874.2,664.1 876.0,664.2" fill="none" stroke="#ff0000" stroke-width="3" stroke-linejoin="round" clip-path="url(#ci)"/>
<g shape-rendering="crispEdges" fill="#000">
<rect x="2" y="2" width="927" height="1"/>
<rect x="2" y="619" width="927" height="1"/>
<rect x="2" y="2" width="1" height="618"/>
<rect x="928" y="2" width="1" height="618"/>
<rect x="2" y="621" width="930" height="1"/>
<rect x="2" y="773" width="930" height="1"/>
<rect x="2" y="621" width="1" height="153"/>
<rect x="928" y="621" width="1" height="153"/>
<rect x="929" y="64" width="3" height="1"/>
<rect x="929" y="129" width="3" height="1"/>
<rect x="929" y="194" width="3" height="1"/>
<rect x="929" y="259" width="3" height="1"/>
<rect x="929" y="324" width="3" height="1"/>
<rect x="929" y="389" width="3" height="1"/>
<rect x="929" y="454" width="3" height="1"/>
<rect x="929" y="519" width="3" height="1"/>
<rect x="929" y="584" width="3" height="1"/>
<rect x="3" y="774" width="1" height="4"/>
<rect x="131" y="774" width="1" height="4"/>
<rect x="259" y="774" width="1" height="4"/>
<rect x="387" y="774" width="1" height="4"/>
<rect x="515" y="774" width="1" height="4"/>
<rect x="643" y="774" width="1" height="4"/>
<rect x="771" y="774" width="1" height="4"/>
</g>
<text class="ax" x="935.7" y="69.7" textLength="51" lengthAdjust="spacingAndGlyphs">166.630</text>
<text class="ax" x="935.7" y="134.7" textLength="51" lengthAdjust="spacingAndGlyphs">162.430</text>
<text class="ax" x="935.7" y="199.7" textLength="51" lengthAdjust="spacingAndGlyphs">158.230</text>
<text class="ax" x="935.7" y="264.7" textLength="51" lengthAdjust="spacingAndGlyphs">154.030</text>
<text class="ax" x="935.7" y="329.7" textLength="51" lengthAdjust="spacingAndGlyphs">149.830</text>
<text class="ax" x="935.7" y="394.7" textLength="51" lengthAdjust="spacingAndGlyphs">145.630</text>
<text class="ax" x="935.7" y="459.7" textLength="51" lengthAdjust="spacingAndGlyphs">141.370</text>
<text class="ax" x="935.7" y="524.7" textLength="51" lengthAdjust="spacingAndGlyphs">137.170</text>
<text class="ax" x="935.7" y="589.7" textLength="51" lengthAdjust="spacingAndGlyphs">132.970</text>
<text class="ax" x="932" y="637.2" textLength="43" lengthAdjust="spacingAndGlyphs">4.0411</text>
<text class="ax" x="931" y="728.0" textLength="27.5" lengthAdjust="spacingAndGlyphs">0.00</text>
<text class="ax" x="932" y="769.2" textLength="48" lengthAdjust="spacingAndGlyphs">-2.0527</text>
<g shape-rendering="crispEdges" fill="#000">
<rect x="930" y="45" width="62" height="17"/>
<rect x="930" y="111" width="62" height="17"/>
<rect x="930" y="192" width="62" height="17"/>
<rect x="930" y="300" width="62" height="17"/>
<rect x="930" y="714" width="10" height="17"/>
</g>
<text class="axw" x="935.7" y="58.7" textLength="51" lengthAdjust="spacingAndGlyphs">167.500</text>
<text class="axw" x="935.7" y="124.7" textLength="51" lengthAdjust="spacingAndGlyphs">163.053</text>
<text class="axw" x="935.7" y="205.7" textLength="51" lengthAdjust="spacingAndGlyphs">158.000</text>
<text class="axw" x="935.7" y="313.7" textLength="51" lengthAdjust="spacingAndGlyphs">151.000</text>
<clipPath id="cz"><rect x="930" y="714" width="10" height="17"/></clipPath>
<g clip-path="url(#cz)">
<text class="axw" x="931" y="728.0" textLength="27.5" lengthAdjust="spacingAndGlyphs">0.00</text>
</g>
<path d="M6,10 L17,10 L11.5,16 Z" fill="#000"/>
<text class="ax" x="24" y="18.9" textLength="95" lengthAdjust="spacingAndGlyphs">GBPJPY,Weekly</text>
<text class="ax" x="129" y="18.9" textLength="218.5" lengthAdjust="spacingAndGlyphs">163.502 164.449 161.810 163.053</text>
<text class="ax" x="7.5" y="638.7" textLength="35.5" lengthAdjust="spacingAndGlyphs">MACD</text>
<text class="ax" x="44" y="638.7" textLength="57.7" lengthAdjust="spacingAndGlyphs">(12,26,9)</text>
<text class="ax" x="106.2" y="638.7" textLength="91.3" lengthAdjust="spacingAndGlyphs">2.2885 2.3584</text>
<text class="ax" x="2.5" y="790.5" textLength="69.5" lengthAdjust="spacingAndGlyphs">7 Jun 2020</text>
<text class="ax" x="130.5" y="790.5" textLength="78" lengthAdjust="spacingAndGlyphs">27 Sep 2020</text>
<text class="ax" x="258.7" y="790.5" textLength="74.5" lengthAdjust="spacingAndGlyphs">17 Jan 2021</text>
<text class="ax" x="386.7" y="790.5" textLength="71" lengthAdjust="spacingAndGlyphs">9 May 2021</text>
<text class="ax" x="514.5" y="790.5" textLength="78" lengthAdjust="spacingAndGlyphs">29 Aug 2021</text>
<text class="ax" x="643" y="790.5" textLength="77" lengthAdjust="spacingAndGlyphs">19 Dec 2021</text>
<text class="ax" x="770.7" y="790.5" textLength="75.5" lengthAdjust="spacingAndGlyphs">10 Apr 2022</text>
</svg>
</body></html>
